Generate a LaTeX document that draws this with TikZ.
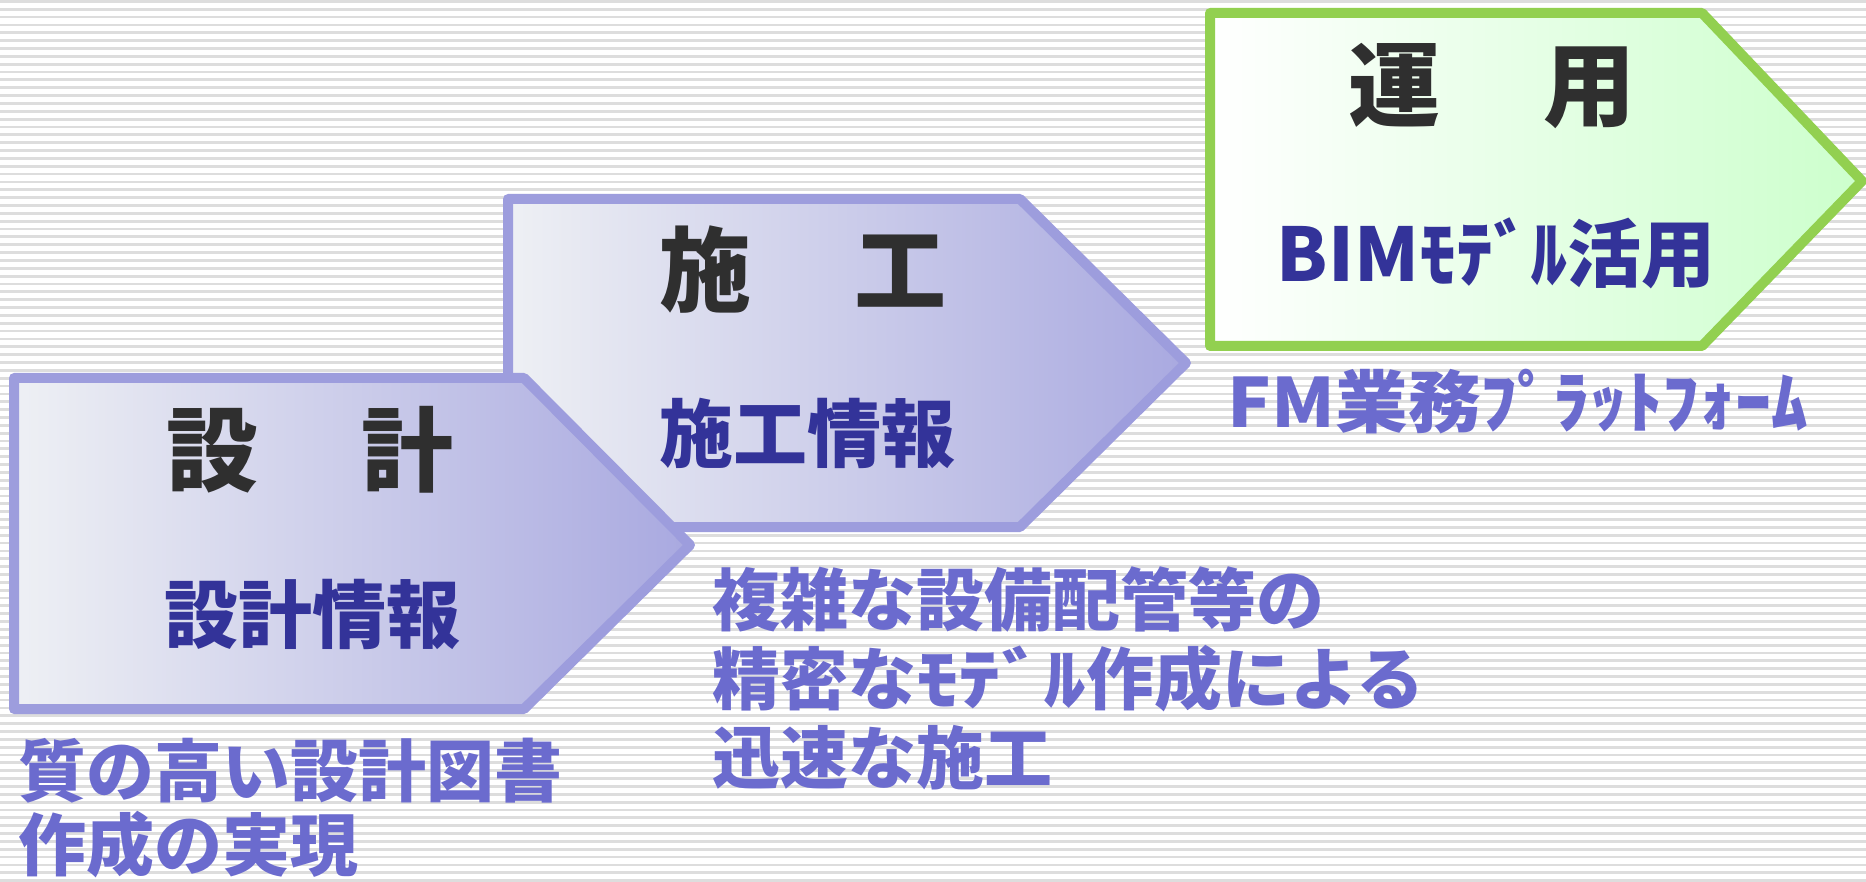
\documentclass[tikz,border=0pt]{standalone}
\usepackage{fontspec}
\usepackage{graphicx}
\newfontfamily\jp{Noto Sans CJK JP}
\definecolor{stripe}{HTML}{DDDDDD}
\definecolor{pborder}{HTML}{9D9DDD}
\definecolor{plight}{HTML}{EEF0F4}
\definecolor{pdark}{HTML}{A9A9E0}
\definecolor{gborder}{HTML}{92D050}
\definecolor{gdark}{HTML}{CCFFCC}
\definecolor{titlec}{HTML}{2F2F2F}
\definecolor{subc}{HTML}{333399}
\definecolor{notec}{HTML}{6B6BCE}
\tikzset{
  purplearrow/.style={draw=pborder, line width=10pt, line join=round, left color=plight, right color=pdark},
  greenarrow/.style={draw=gborder, line width=10pt, line join=round, left color=white, right color=gdark},
  titletext/.style={inner sep=0pt, text=titlec, font=\jp\bfseries\fontsize{92}{100}\selectfont},
  subtext/.style={inner sep=0pt, text=subc, font=\jp\bfseries\fontsize{74}{80}\selectfont},
  notetext/.style={inner sep=0pt, text=notec, align=left, anchor=north west, font=\jp\bfseries\fontsize{68}{#1}\selectfont},
}
\begin{document}
\begin{tikzpicture}[x=1pt,y=-1pt]
\useasboundingbox (0,0) rectangle (1866,882);
\fill[white] (0,0) rectangle (1866,882);
\foreach \i in {0,...,112} \fill[stripe] (0,\i*7.85) rectangle (1866,\i*7.85+2.8);
% arrows
\path[greenarrow] (1210,13) -- (1702,13) -- (1862,181) -- (1702,346) -- (1210,346) -- cycle;
\path[purplearrow] (508,199) -- (1020,199) -- (1186,363) -- (1020,527) -- (508,527) -- cycle;
\path[purplearrow] (14,378) -- (524,378) -- (690,545) -- (524,709) -- (14,709) -- cycle;
% titles
\node[titletext] (unyo) at (1492,86) {運\hspace{1.13em}用};
\node[titletext] (seko) at (803,270) {施\hspace{1.13em}工};
\node[titletext] (sekkei) at (310,450) {設\hspace{1.13em}計};
% subtitles
\node[subtext] (bim) at (1496,253) {BIMﾓﾃﾞﾙ活用};
\node[subtext] (sekojoho) at (807,433) {施工情報};
\node[subtext] (sekkeijoho) at (312,614) {設計情報};
% notes
\node[inner sep=0pt, text=notec, font=\jp\bfseries\fontsize{68}{74}\selectfont] (fm) at (1518,402) {\scalebox{1.07}[1]{FM業務ﾌﾟﾗｯﾄﾌｫｰﾑ}};
\node[notetext=74] (note1) at (18,738) {質の高い設計図書\\作成の実現};
\node[notetext=79] (note2) at (712,566) {複雑な設備配管等の\\精密な\scalebox{1.25}[1]{ﾓﾃﾞﾙ}作成による\\迅速な施工};
\end{tikzpicture}
\end{document}
